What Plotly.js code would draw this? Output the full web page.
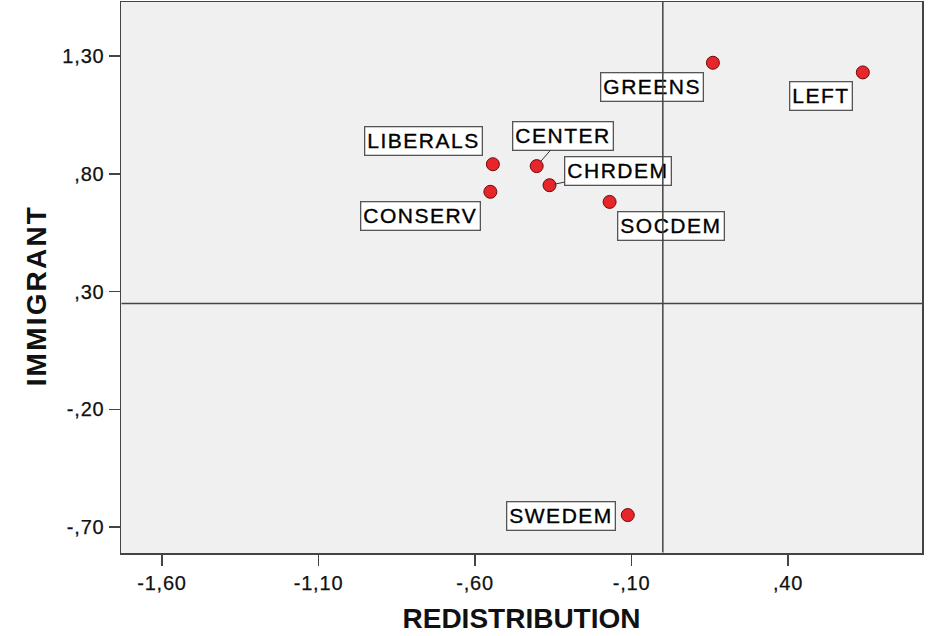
<!DOCTYPE html>
<html>
<head>
<meta charset="utf-8">
<script src="https://cdn.plot.ly/plotly-3.0.1.min.js"></script>
<style>
  html, body { margin: 0; padding: 0; background: #ffffff; }
  #chart { width: 929px; height: 636px; }
  .annotation-text { letter-spacing: 1.5px; stroke: #000; stroke-width: 0.35px; }
  .ytitle-ann .annotation-text { letter-spacing: 2.2px; stroke-width: 0; }
  .xtick text, .ytick text { letter-spacing: 0.8px; stroke: #111; stroke-width: 0.25px; }
</style>
</head>
<body>
<div id="chart"></div>
<script>
// ---- data ----
const parties = ['GREENS', 'LEFT', 'LIBERALS', 'CENTER', 'CHRDEM', 'CONSERV', 'SOCDEM', 'SWEDEM'];
const redistribution = [0.160, 0.639, -0.543, -0.403, -0.362, -0.551, -0.170, -0.112];
const immigrant = [1.272, 1.231, 0.841, 0.833, 0.752, 0.724, 0.681, -0.649];

const xTickVals = [-1.60, -1.10, -0.60, -0.10, 0.40];
const xTickText = ['-1,60', '-1,10', '-,60', '-,10', ',40'];
const yTickVals = [1.30, 0.80, 0.30, -0.20, -0.70];
const yTickText = ['1,30', ',80', ',30', '-,20', '-,70'];

const xTitle = 'REDISTRIBUTION';
const yTitle = 'IMMIGRANT';

const refX = 0.0;   // vertical reference line
const refY = 0.25;  // horizontal reference line

// ---- layout helpers (label placement, in pixels) ----
const labelShift = {
  GREENS:   { dx: -61, dy: 24 },
  LEFT:     { dx: -42, dy: 24 },
  LIBERALS: { dx: -69, dy: -23 },
  CENTER:   { dx: 26,  dy: -30, leader: true },
  CHRDEM:   { dx: 68,  dy: -14, leader: true },
  CONSERV:  { dx: -70, dy: 24 },
  SOCDEM:   { dx: 61,  dy: 24 },
  SWEDEM:   { dx: -67, dy: 1 }
};

const xRange = [-1.731, 0.828];
const yRange = [-0.81, 1.53];
const axisColor = '#444444';

const labelFont = { family: 'Liberation Sans, Arial, sans-serif', size: 21, color: '#000000' };

const annotations = parties.map((p, i) => {
  const s = labelShift[p];
  const base = {
    x: redistribution[i], y: immigrant[i], xref: 'x', yref: 'y',
    text: p, font: labelFont,
    bgcolor: '#ffffff', bordercolor: '#555555', borderwidth: 1.3, borderpad: 2
  };
  if (s.leader) {
    return Object.assign(base, {
      showarrow: true, ax: s.dx, ay: s.dy, arrowhead: 0, arrowwidth: 1,
      arrowcolor: '#333333', standoff: 5
    });
  }
  return Object.assign(base, {
    showarrow: false, xshift: s.dx, yshift: -s.dy, xanchor: 'center', yanchor: 'middle'
  });
});

// reference lines drawn on top of label boxes
annotations.push({
  x: refX, y: yRange[1], ax: refX, ay: yRange[0], xref: 'x', yref: 'y', axref: 'x', ayref: 'y',
  text: '', showarrow: true, arrowhead: 0, arrowwidth: 1.5, arrowcolor: axisColor, standoff: 0, borderpad: 0
});
annotations.push({
  x: xRange[1], y: refY, ax: xRange[0], ay: refY, xref: 'x', yref: 'y', axref: 'x', ayref: 'y',
  text: '', showarrow: true, arrowhead: 0, arrowwidth: 1.5, arrowcolor: axisColor, standoff: 0, borderpad: 0
});

const titleFont = { family: 'Liberation Sans, Arial, sans-serif', size: 28, color: '#111111', weight: 'bold' };

// y-axis title (placed as annotation to match the reference's position)
annotations.push({
  text: yTitle, xref: 'paper', yref: 'paper', x: 0, y: 0.466, xshift: -85,
  xanchor: 'center', yanchor: 'middle', textangle: -90, showarrow: false,
  font: titleFont, name: 'ytitle'
});

const trace = {
  type: 'scatter', mode: 'markers',
  x: redistribution, y: immigrant, text: parties,
  marker: { size: 13, color: '#e6262b', line: { color: '#6b0a0a', width: 1 } },
  hoverinfo: 'text+x+y'
};

const tickFont = { family: 'Liberation Sans, Arial, sans-serif', size: 20, color: '#111111' };

const layout = {
  width: 929, height: 636,
  margin: { l: 121, r: 7, t: 2, b: 83 },
  paper_bgcolor: '#ffffff',
  plot_bgcolor: '#f0f0f0',
  showlegend: false,
  xaxis: {
    range: xRange, tickvals: xTickVals, ticktext: xTickText,
    ticks: 'outside', ticklen: 11, tickwidth: 1.5, tickcolor: axisColor,
    showline: true, linecolor: axisColor, linewidth: 1.5, mirror: true,
    showgrid: false, zeroline: false, tickfont: tickFont,
    title: { text: xTitle, font: titleFont, standoff: 16 }
  },
  yaxis: {
    range: yRange, tickvals: yTickVals, ticktext: yTickText,
    ticks: 'outside', ticklen: 11, tickwidth: 1.5, tickcolor: axisColor,
    showline: true, linecolor: axisColor, linewidth: 1.5, mirror: true,
    showgrid: false, zeroline: false, tickfont: tickFont
  },
  annotations: annotations
};

Plotly.newPlot('chart', [trace], layout, { displayModeBar: false, staticPlot: true }).then(() => {
  // widen letter spacing of the y title like the reference
  const anns = document.querySelectorAll('.annotation');
  const last = anns[anns.length - 1];
  if (last) last.classList.add('ytitle-ann');
});
</script>
</body>
</html>
